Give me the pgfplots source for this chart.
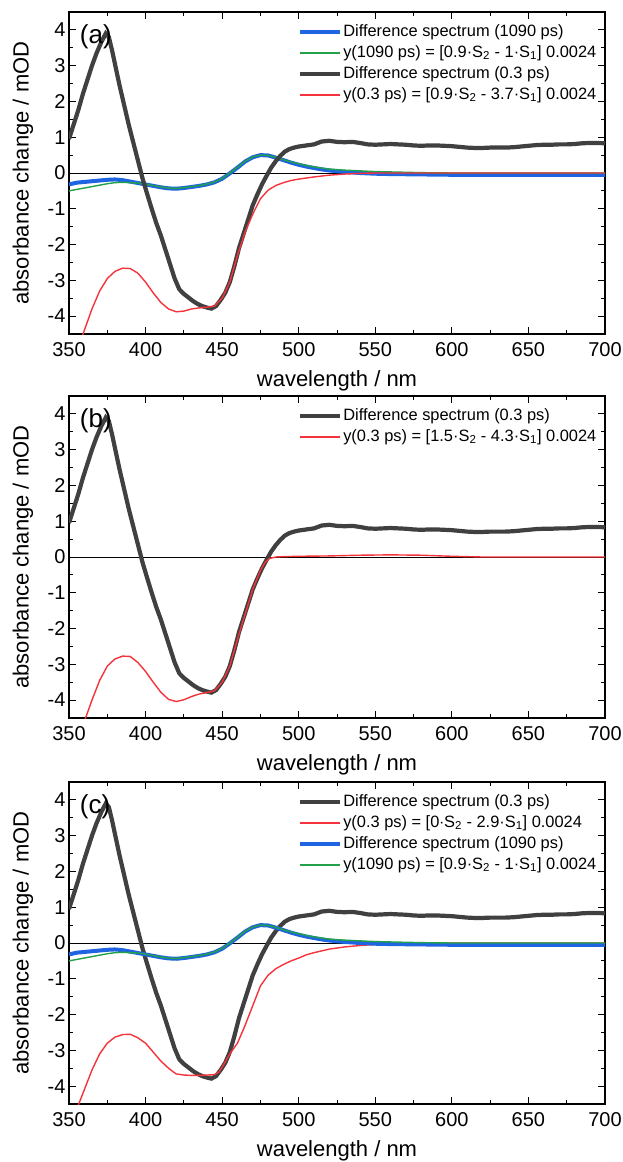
\documentclass[border=0pt]{standalone}
\usepackage{fontspec}
\setmainfont{Liberation Sans}
\usepackage{pgfplots}
\usepackage{pgfplotstable}
\pgfplotsset{compat=1.18}
\definecolor{cgray}{HTML}{404040}
\definecolor{cblue}{HTML}{1F64E0}
\definecolor{cgreen}{HTML}{22A04A}
\definecolor{cred}{HTML}{F5333A}

\pgfplotstableread{
x y
350 0.95
353 1.35
356 1.75
359 2.2
362 2.6
365 3.0
368 3.35
371 3.65
374 3.9
376 3.8
378 3.45
380 3.05
383 2.45
386 1.9
389 1.35
392 0.85
395 0.35
398 -0.15
401 -0.58
404 -1.0
407 -1.4
410 -1.75
413 -2.15
416 -2.55
419 -2.95
422 -3.25
425 -3.38
428 -3.48
431 -3.58
434 -3.66
437 -3.72
440 -3.76
443 -3.79
446 -3.72
449 -3.55
452 -3.35
455 -3.05
458 -2.6
461 -2.1
464 -1.7
467 -1.3
470 -0.9
473 -0.6
476 -0.32
479 -0.08
482 0.15
485 0.33
488 0.48
491 0.6
494 0.67
497 0.71
500 0.74
505 0.77
510 0.8
515 0.88
520 0.9
525 0.87
530 0.86
535 0.87
540 0.84
545 0.8
550 0.79
555 0.8
560 0.81
565 0.8
570 0.79
575 0.77
580 0.76
585 0.77
590 0.77
595 0.76
600 0.75
605 0.73
610 0.71
615 0.7
620 0.7
625 0.71
630 0.71
635 0.71
640 0.72
645 0.74
650 0.76
655 0.78
660 0.79
665 0.79
670 0.8
675 0.8
680 0.81
685 0.83
690 0.84
695 0.84
700 0.83
}\grayspec

\pgfplotstableread{
x y
350 -0.32
355 -0.27
360 -0.25
365 -0.23
370 -0.21
375 -0.19
380 -0.18
385 -0.2
390 -0.24
395 -0.28
400 -0.32
405 -0.36
410 -0.4
415 -0.43
420 -0.44
425 -0.42
430 -0.39
435 -0.36
440 -0.32
445 -0.26
450 -0.16
455 -0.01
460 0.15
465 0.32
470 0.44
475 0.5
480 0.49
485 0.43
490 0.36
495 0.29
500 0.23
505 0.18
510 0.14
515 0.1
520 0.07
530 0.03
540 0.0
550 -0.02
560 -0.03
580 -0.04
600 -0.05
650 -0.05
700 -0.05
}\bluespec

\pgfplotstableread{
x y
350 -0.5
355 -0.46
360 -0.42
365 -0.38
370 -0.34
375 -0.3
380 -0.27
385 -0.26
390 -0.27
395 -0.28
400 -0.31
405 -0.35
410 -0.39
415 -0.42
420 -0.43
425 -0.41
430 -0.38
435 -0.35
440 -0.31
445 -0.25
450 -0.15
455 0.0
460 0.16
465 0.33
470 0.45
475 0.5
480 0.49
485 0.44
490 0.37
495 0.31
500 0.26
505 0.21
510 0.17
515 0.14
520 0.11
530 0.08
540 0.06
550 0.04
560 0.03
580 0.01
600 0.0
700 0.0
}\greenfit

\pgfplotstableread{
x y
350 -5.6
355 -5.0
360 -4.4
365 -3.8
370 -3.3
375 -2.95
380 -2.75
385 -2.66
390 -2.67
395 -2.8
400 -3.05
405 -3.35
410 -3.62
415 -3.8
420 -3.88
425 -3.86
430 -3.8
435 -3.77
440 -3.75
445 -3.72
450 -3.5
455 -3.05
460 -2.3
465 -1.65
470 -1.15
475 -0.72
480 -0.48
485 -0.35
490 -0.27
495 -0.21
500 -0.17
510 -0.11
520 -0.06
530 -0.03
540 -0.01
550 0.0
700 0.0
}\redA

\pgfplotstableread{
x y
350 -5.6
355 -5.1
360 -4.6
365 -4.0
370 -3.45
375 -3.05
380 -2.85
385 -2.77
390 -2.78
395 -2.95
400 -3.2
405 -3.5
410 -3.78
415 -3.98
420 -4.04
425 -3.99
430 -3.9
435 -3.83
440 -3.79
445 -3.74
450 -3.5
455 -3.05
460 -2.3
465 -1.6
470 -0.9
475 -0.38
478 -0.15
481 -0.04
485 0.0
490 0.01
500 0.02
520 0.03
540 0.05
560 0.06
580 0.05
600 0.02
620 0.0
700 0.0
}\redB

\pgfplotstableread{
x y
350 -5.2
355 -4.65
360 -4.1
365 -3.55
370 -3.1
375 -2.8
380 -2.63
385 -2.56
390 -2.55
395 -2.65
400 -2.8
405 -3.05
410 -3.3
415 -3.5
420 -3.66
425 -3.69
430 -3.7
435 -3.7
440 -3.69
445 -3.68
448 -3.6
451 -3.4
455 -3.1
460 -2.8
465 -2.3
470 -1.75
475 -1.2
480 -0.9
485 -0.72
490 -0.6
495 -0.5
500 -0.42
505 -0.33
510 -0.27
520 -0.17
530 -0.11
540 -0.07
550 -0.04
560 -0.01
570 0.0
700 0.0
}\redC

\pgfplotsset{panel/.style={
  scale only axis, width=536pt, height=322pt,
  xmin=350, xmax=700, ymin=-4.5, ymax=4.5,
  xtick={350,400,...,700}, ytick={-4,-3,...,4},
  minor x tick num=1, minor y tick num=1,
  tick align=inside, major tick length=7pt, minor tick length=4pt,
  axis line style={line width=1.2pt},
  every tick/.style={line width=1pt, black},
  tick label style={font=\fontsize{20}{24}\selectfont},
  label style={font=\fontsize{22}{26}\selectfont},
  /pgf/number format/assume math mode=true,
  xlabel={wavelength / nm}, ylabel={absorbance change / mOD},
  xlabel style={at={(axis description cs:0.5,0)}, anchor=center, yshift=-47pt},
  ylabel style={at={(axis description cs:-0.086,0.5)}, anchor=center},
  xticklabel style={yshift=-5pt},
  legend cell align=left,
  legend style={draw=none, fill=none, inner sep=0pt,
    at={(axis description cs:0.427,0.966)}, anchor=north west,
    font=\fontsize{16.4}{19}\selectfont, row sep=3pt,
    nodes={inner sep=1pt, text height=12pt, text depth=4pt}},
  legend image code/.code={\draw[##1] (0pt,0pt) -- (40pt,0pt);},
  graysty/.style={color=cgray, line width=4.2pt},
  bluesty/.style={color=cblue, line width=4pt},
  greensty/.style={color=cgreen, line width=1.4pt},
  redsty/.style={color=cred, line width=1.4pt},
}}

\begin{document}
\begin{tikzpicture}
% (a)
\begin{axis}[panel, at={(0pt,0pt)}, anchor=north west]
\addplot[black, line width=1pt, forget plot] coordinates {(350,0) (700,0)};
\addplot[bluesty] table[x=x,y=y] {\bluespec};
\addlegendentry{Difference spectrum (1090 ps)}
\addplot[greensty] table[x=x,y=y] {\greenfit};
\addlegendentry{y(1090 ps) = [0.9·S\textsubscript{2} - 1·S\textsubscript{1}] 0.0024}
\addplot[graysty] table[x=x,y=y] {\grayspec};
\addlegendentry{Difference spectrum (0.3 ps)}
\addplot[redsty] table[x=x,y=y] {\redA};
\addlegendentry{y(0.3 ps) = [0.9·S\textsubscript{2} - 3.7·S\textsubscript{1}] 0.0024}
\node[anchor=west, font=\fontsize{26}{30}\selectfont, inner sep=0pt] at (axis cs:357,3.8) {(a)};
\end{axis}
% (b)
\begin{axis}[panel, at={(0pt,-384pt)}, anchor=north west]
\addplot[black, line width=1pt, forget plot] coordinates {(350,0) (700,0)};
\addplot[graysty] table[x=x,y=y] {\grayspec};
\addlegendentry{Difference spectrum (0.3 ps)}
\addplot[redsty] table[x=x,y=y] {\redB};
\addlegendentry{y(0.3 ps) = [1.5·S\textsubscript{2} - 4.3·S\textsubscript{1}] 0.0024}
\node[anchor=west, font=\fontsize{26}{30}\selectfont, inner sep=0pt] at (axis cs:357,3.8) {(b)};
\end{axis}
% (c)
\begin{axis}[panel, at={(0pt,-770pt)}, anchor=north west]
\addplot[black, line width=1pt, forget plot] coordinates {(350,0) (700,0)};
\addplot[graysty] table[x=x,y=y] {\grayspec};
\addlegendentry{Difference spectrum (0.3 ps)}
\addplot[redsty] table[x=x,y=y] {\redC};
\addlegendentry{y(0.3 ps) = [0$\cdot$S\textsubscript{2} - 2.9·S\textsubscript{1}] 0.0024}
\addplot[bluesty] table[x=x,y=y] {\bluespec};
\addlegendentry{Difference spectrum (1090 ps)}
\addplot[greensty] table[x=x,y=y] {\greenfit};
\addlegendentry{y(1090 ps) = [0.9·S\textsubscript{2} - 1·S\textsubscript{1}] 0.0024}
\node[anchor=west, font=\fontsize{26}{30}\selectfont, inner sep=0pt] at (axis cs:357,3.8) {(c)};
\end{axis}
\pgfresetboundingbox
\path[use as bounding box] (-69pt,12pt) rectangle (553pt,-1150pt);
\end{tikzpicture}
\end{document}
